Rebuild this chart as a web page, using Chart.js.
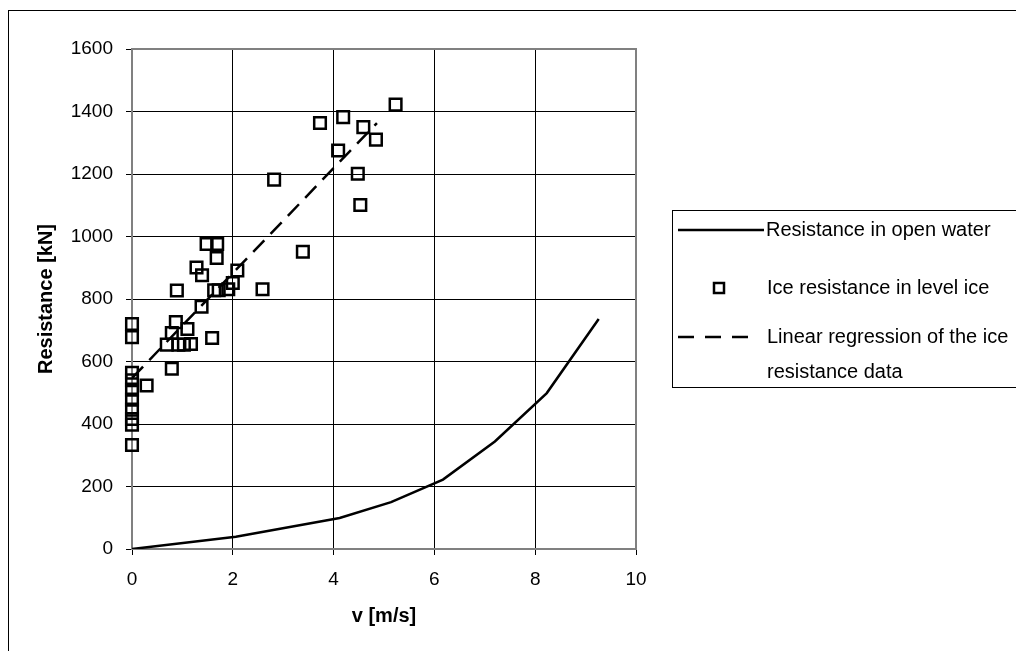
<!DOCTYPE html>
<html>
<head>
<meta charset="utf-8">
<script src="https://cdn.jsdelivr.net/npm/chart.js@4.4.1/dist/chart.umd.min.js"></script>
<style>
  html, body { margin: 0; padding: 0; background: #fff; }
  #wrap { width: 1016px; height: 651px; position: relative; }
</style>
</head>
<body>
<div id="wrap"><canvas id="chart" width="1016" height="651"></canvas></div>
<script>
// resistance in open water [kN] vs speed [m/s]
var openSpeed = [0, 2.06, 4.12, 5.14, 6.17, 7.20, 8.23, 9.26]
var openRes = [0, 39, 99, 150, 222, 344, 499, 736]

// measured ice resistance in level ice
var iceSpeed = [5.23, 3.73, 4.19, 4.59, 4.84, 4.09, 4.48, 4.53, 2.82, 3.39,
  2.59, 1.48, 1.69, 1.68, 1.28, 1.39, 2.09, 2.00, 1.91, 1.72,
  1.63, 0.89, 1.38, 0.87, 0, 1.10, 0.79, 0, 1.59, 0.69,
  0.92, 1.03, 1.17, 0.79, 0.29, 0, 0, 0, 0, 0,
  0, 0, 0]
var iceRes = [1422, 1363, 1382, 1350, 1310, 1275, 1201, 1101, 1182, 951,
  831, 976, 976, 931, 901, 876, 891, 851, 831, 828,
  828, 827, 775, 726, 720, 704, 691, 678, 675, 654,
  654, 654, 656, 577, 523, 564, 540, 510, 478, 446,
  416, 398, 333]

// linear regression of the ice data
var regSpeed = [0, 4.86]
var regRes = [547, 1363]

var xTicks = [0, 2, 4, 6, 8, 10]
var yTicks = [0, 200, 400, 600, 800, 1000, 1200, 1400, 1600]

var legendLabels = ["Resistance in open water", "Ice resistance in level ice",
  ["Linear regression of the ice", "resistance data"]]

function pts(xs, ys) {
  return xs.map(function (x, i) { return { x: x, y: ys[i] } })
}

var FONT = "'Liberation Sans', Arial, sans-serif"

var frame = {
  id: "frame",
  beforeDraw: function (chart) {
    var c = chart.ctx
    c.save()
    c.strokeStyle = "#000"
    c.lineWidth = 1
    c.strokeRect(8.5, 10.5, 1200, 1000)
    c.restore()
  },
  beforeDatasetsDraw: function (chart) {
    var c = chart.ctx, a = chart.chartArea
    c.save()
    c.strokeStyle = "#808080"
    c.lineWidth = 2
    c.strokeRect(a.left, a.top, a.right - a.left, a.bottom - a.top)
    c.restore()
  },
  afterDraw: function (chart) {
    var c = chart.ctx
    c.save()
    c.strokeStyle = "#000"
    c.lineWidth = 1
    c.strokeRect(672.5, 210.5, 400, 177)
    c.fillStyle = "#000"
    c.font = "20px " + FONT
    c.textBaseline = "middle"
    c.textAlign = "left"
    // open water
    c.lineWidth = 2.5
    c.beginPath(); c.moveTo(678, 230); c.lineTo(764, 230); c.stroke()
    c.fillText(legendLabels[0], 766, 230)
    // ice squares
    c.lineWidth = 2.5
    c.strokeRect(714, 283, 10, 10)
    c.fillText(legendLabels[1], 767, 288)
    // regression
    c.lineWidth = 2.5
    c.setLineDash([16, 11])
    c.beginPath(); c.moveTo(678, 337); c.lineTo(748, 337); c.stroke()
    c.setLineDash([])
    c.fillText(legendLabels[2][0], 767, 337)
    c.fillText(legendLabels[2][1], 767, 372)
    c.restore()
  }
}

new Chart(document.getElementById("chart"), {
  type: "scatter",
  data: {
    datasets: [{
      label: "Resistance in open water",
      data: pts(openSpeed, openRes),
      showLine: true,
      borderColor: "#000",
      borderWidth: 2.5,
      pointRadius: 0,
      tension: 0
    }, {
      label: "Linear regression of the ice resistance data",
      data: pts(regSpeed, regRes),
      showLine: true,
      borderColor: "#000",
      borderWidth: 2.5,
      borderDash: [16, 9],
      pointRadius: 0
    }, {
      label: "Ice resistance in level ice",
      data: pts(iceSpeed, iceRes),
      clip: false,
      pointStyle: "rect",
      pointRadius: 8.2,
      pointBorderWidth: 2.5,
      pointBorderColor: "#000",
      pointBackgroundColor: "rgba(0,0,0,0)"
    }]
  },
  options: {
    responsive: false,
    animation: false,
    layout: { padding: { left: 0, right: 380, top: 49, bottom: 0 } },
    plugins: { legend: { display: false }, tooltip: { enabled: false } },
    scales: {
      x: {
        type: "linear",
        min: 0, max: 10,
        afterBuildTicks: function (s) { s.ticks = xTicks.map(function (v) { return { value: v } }) },
        afterFit: function (s) { s.height = 102 },
        border: { display: false },
        grid: { color: "#000", lineWidth: 1, tickLength: 6, tickColor: "#000" },
        ticks: { color: "#000", padding: 13, font: { family: FONT, size: 19 }, maxRotation: 0,
          callback: function (v) { return String(v) } },
        title: { display: true, text: "v [m/s]", color: "#000",
          font: { family: FONT, size: 20, weight: "bold" }, padding: { top: 0, bottom: 23 } }
      },
      y: {
        type: "linear",
        min: 0, max: 1600,
        afterBuildTicks: function (s) { s.ticks = yTicks.map(function (v) { return { value: v } }) },
        afterFit: function (s) { s.width = 132 },
        border: { display: false },
        grid: { color: "#000", lineWidth: 1, tickLength: 6, tickColor: "#000" },
        ticks: { color: "#000", padding: 13, font: { family: FONT, size: 19 },
          callback: function (v) { return String(v) } },
        title: { display: true, text: "Resistance [kN]", color: "#000",
          font: { family: FONT, size: 20, weight: "bold" }, padding: { top: 34, bottom: 0 } }
      }
    }
  },
  plugins: [frame]
})
</script>
</body>
</html>
